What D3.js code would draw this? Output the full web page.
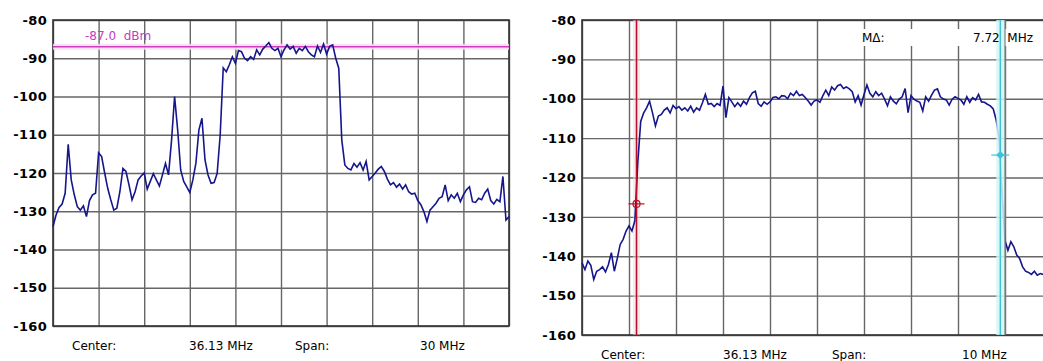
<!DOCTYPE html>
<html>
<head>
<meta charset="utf-8">
<script src="https://cdn.jsdelivr.net/npm/d3@7"></script>
<style>
body { margin: 0; background: #fff; }
svg text { font-family: "DejaVu Sans", sans-serif; fill: #000; }
.ylab text { font-size: 13px; font-weight: bold; letter-spacing: 0.3px; }
.foot { font-size: 12px; white-space: pre; }
</style>
</head>
<body>
<svg class="chart" width="1043" height="361"></svg>
<script>
const yTicks = [-80, -90, -100, -110, -120, -130, -140, -150, -160];

// left screen: center 36.13 MHz, span 30 MHz, 151 points
const leftSpan = [21.13, 51.13];
const leftTrace = [
  -134.0, -131.0, -129.0, -128.1, -125.3, -112.5, -121.8, -125.7, -128.8, -129.7,
  -128.6, -131.4, -127.2, -125.7, -125.3, -114.7, -115.7, -120.0, -124.0, -127.0,
  -129.7, -129.2, -124.9, -118.8, -119.6, -123.1, -127.0, -124.9, -121.8, -120.8,
  -120.0, -124.2, -122.2, -120.2, -121.8, -123.4, -120.5, -117.5, -120.5, -111.4,
  -100.0, -108.7, -119.2, -122.2, -123.6, -125.1, -121.8, -117.5, -108.7, -105.7,
  -116.6, -120.5, -122.7, -122.5, -120.1, -110.0, -92.5, -93.5, -91.7, -89.6,
  -91.3, -88.0, -88.3, -90.0, -90.6, -89.6, -90.3, -87.8, -89.1, -87.6,
  -86.8, -85.9, -87.4, -88.0, -87.4, -89.6, -87.8, -86.5, -87.6, -86.9,
  -88.7, -87.4, -88.0, -86.9, -88.3, -89.1, -89.6, -86.8, -88.5, -86.3,
  -88.9, -86.9, -86.5, -90.0, -92.6, -111.4, -117.9, -118.8, -119.2, -117.5,
  -118.5, -117.3, -119.2, -117.0, -121.8, -120.9, -120.0, -119.0, -118.3, -119.6,
  -121.6, -123.1, -122.5, -123.7, -122.9, -124.2, -123.1, -124.9, -125.5, -125.3,
  -127.2, -128.3, -130.1, -132.7, -129.7, -128.8, -127.9, -126.6, -126.2, -123.1,
  -127.2, -125.7, -126.6, -125.3, -127.5, -125.7, -124.4, -123.6, -127.5, -127.7,
  -126.6, -127.0, -125.3, -124.2, -127.2, -128.1, -126.9, -127.5, -120.9, -132.3,
  -131.4
];
const leftRefLevel = -87.0;
const leftRefLabel = '-87.0  dBm';
const leftFooter = ['Center:', '36.13 MHz', 'Span:', '30 MHz'];

// right screen: center 36.13 MHz, span 10 MHz, 0.0625 MHz steps (cut by the window)
const rightSpan = [31.13, 41.13];
const rightTrace = [
  -141.7, -143.4, -141.2, -142.3, -145.9, -143.8, -143.4, -142.7, -144.0, -142.1,
  -139.1, -143.8, -140.6, -137.0, -135.7, -133.6, -132.3, -133.6, -131.0, -116.0,
  -105.7, -103.6, -102.3, -100.6, -103.6, -106.9, -104.4, -104.0, -102.9, -102.3,
  -103.6, -101.7, -102.5, -102.0, -102.9, -102.3, -103.1, -101.9, -103.4, -102.3,
  -102.9, -101.0, -98.9, -101.4, -101.2, -102.0, -101.2, -101.7, -96.8, -104.8,
  -99.7, -100.8, -102.0, -101.0, -101.9, -100.6, -101.4, -99.7, -98.5, -98.1,
  -101.2, -101.9, -100.8, -101.4, -100.8, -99.7, -99.5, -100.0, -99.2, -99.3,
  -100.0, -98.6, -99.2, -98.1, -99.2, -98.9, -99.7, -100.6, -101.6, -100.6,
  -100.3, -100.9, -99.2, -97.8, -99.2, -97.0, -97.8, -96.7, -96.4, -97.4,
  -97.0, -97.5, -98.2, -100.8, -99.2, -101.6, -98.9, -96.5, -98.6, -99.5,
  -98.2, -99.2, -98.6, -100.1, -101.8, -99.5, -100.6, -101.3, -100.1, -99.5,
  -97.4, -103.5, -99.2, -100.1, -100.6, -100.9, -103.1, -99.5, -100.6, -99.1,
  -97.8, -97.5, -99.5, -100.1, -100.3, -101.6, -100.1, -99.5, -99.9, -100.3,
  -101.4, -99.5, -100.9, -99.7, -100.3, -98.9, -100.8, -100.9, -101.4, -101.8,
  -102.6, -105.4, -110.0, -124.5, -136.0, -138.5, -136.3, -137.6, -139.7, -140.6,
  -142.7, -143.8, -144.1, -144.6, -143.8, -144.8, -144.4, -144.6
];
const rightStep = 0.0625;
const markerFreqs = [32.29, 40.03];
const markerLevels = [-126.7, -114.3];
const deltaLabel = ['M\u0394:', '7.72  MHz'];
const rightFooter = ['Center:', '36.13 MHz', 'Span:', '10 MHz'];

const svg = d3.select('.chart');

const panels = [
  { x0: 53, x1: 509, y0: 20, y1: 326, span: leftSpan, data: leftTrace, step: 0.2,
    footer: leftFooter, footX: [72, 189, 295, 420], footY: 350 },
  { x0: 582, x1: 1052, y0: 20, y1: 335, span: rightSpan, data: rightTrace, step: rightStep,
    footer: rightFooter, footX: [601, 723, 832, 962], footY: 359 }
];

const drawPanel = p => {
  const x = d3.scaleLinear().domain(p.span).range([p.x0, p.x1]);
  const y = d3.scaleLinear().domain([-80, -160]).range([p.y0, p.y1]);
  const h = p.y1 - p.y0;
  const w = p.x1 - p.x0;
  const xGrid = d3.range(11).map(k => p.span[0] + k * (p.span[1] - p.span[0]) / 10);

  const g = svg.append('g');

  const xAxisG = g.append('g')
    .attr('transform', `translate(0, ${p.y1})`)
    .call(d3.axisBottom(x).tickValues(xGrid).tickSize(-h).tickFormat(''));
  xAxisG.select('.domain').remove();
  xAxisG.selectAll('.tick line').attr('stroke', '#666').attr('stroke-width', 1.4);

  const yAxisG = g.append('g')
    .attr('class', 'ylab')
    .attr('transform', `translate(${p.x0}, 0)`)
    .call(d3.axisLeft(y).tickValues(yTicks).tickSize(-w).tickPadding(6).tickFormat(d => String(d)));
  yAxisG.select('.domain').remove();
  yAxisG.selectAll('.tick line').attr('stroke', '#666').attr('stroke-width', 1.4);
  yAxisG.selectAll('.tick text').attr('fill', '#000');

  g.append('rect')
    .attr('x', p.x0).attr('y', p.y0)
    .attr('width', w).attr('height', h)
    .attr('fill', 'none')
    .attr('stroke', '#333')
    .attr('stroke-width', 1.6);

  p.footer.forEach((t, k) => {
    g.append('text')
      .attr('class', 'foot')
      .attr('x', p.footX[k])
      .attr('y', p.footY)
      .text(t);
  });

  return { g, x, y };
};

// left
const L = drawPanel(panels[0]);

L.g.append('rect')
  .attr('x', panels[0].x0).attr('y', L.y(leftRefLevel) - 3)
  .attr('width', panels[0].x1 - panels[0].x0).attr('height', 6)
  .attr('fill', '#f8dcf3').attr('opacity', 0.85);

L.g.append('line')
  .attr('x1', panels[0].x0).attr('x2', panels[0].x1)
  .attr('y1', L.y(leftRefLevel)).attr('y2', L.y(leftRefLevel))
  .attr('stroke', '#cc3cbc').attr('stroke-width', 1.4);

L.g.append('text')
  .attr('class', 'foot')
  .attr('x', 85).attr('y', 40)
  .attr('font-size', 11)
  .style('fill', '#c63cc0')
  .text(leftRefLabel);

const lineL = d3.line()
  .x((d, i) => L.x(leftSpan[0] + i * panels[0].step))
  .y(d => L.y(d));

L.g.append('path')
  .datum(leftTrace)
  .attr('d', lineL)
  .attr('fill', 'none')
  .attr('stroke', '#16168c')
  .attr('stroke-width', 1.6);

// right
const R = drawPanel(panels[1]);

const mRed = R.x(markerFreqs[0]);
const mCyan = R.x(markerFreqs[1]);

R.g.append('rect')
  .attr('x', mRed - 3.5).attr('y', panels[1].y0)
  .attr('width', 7).attr('height', panels[1].y1 - panels[1].y0)
  .attr('fill', '#f8d6da').attr('opacity', 0.5);

R.g.append('rect')
  .attr('x', 858).attr('y', 29)
  .attr('width', 200).attr('height', 17)
  .attr('fill', '#fff');

const lineR = d3.line()
  .x((d, i) => R.x(rightSpan[0] + i * rightStep))
  .y(d => R.y(d));

R.g.append('path')
  .datum(rightTrace)
  .attr('d', lineR)
  .attr('fill', 'none')
  .attr('stroke', '#16168c')
  .attr('stroke-width', 1.6);

R.g.append('line')
  .attr('x1', mRed).attr('x2', mRed)
  .attr('y1', panels[1].y0).attr('y2', panels[1].y1)
  .attr('stroke', '#b8102c').attr('stroke-width', 1.6);

R.g.append('rect')
  .attr('x', mCyan - 4).attr('y', panels[1].y0)
  .attr('width', 9).attr('height', panels[1].y1 - panels[1].y0)
  .attr('fill', '#d2f4f7').attr('opacity', 0.85);

R.g.append('line')
  .attr('x1', mCyan).attr('x2', mCyan)
  .attr('y1', panels[1].y0).attr('y2', panels[1].y1)
  .attr('stroke', '#3cc4d4').attr('stroke-width', 1.4);

R.g.append('line')
  .attr('x1', R.x(rightSpan[0] + 9)).attr('x2', R.x(rightSpan[0] + 9))
  .attr('y1', panels[1].y0).attr('y2', panels[1].y1)
  .attr('stroke', '#666').attr('stroke-width', 1.4).attr('opacity', 0.7);

R.g.selectAll('.dlab')
  .data(deltaLabel)
  .enter()
  .append('text')
  .attr('class', 'foot')
  .attr('x', (d, i) => i === 0 ? 862 : 973)
  .attr('y', 42)
  .text(d => d);

// marker symbols
const redY = R.y(markerLevels[0]);
R.g.append('line')
  .attr('x1', mRed - 8).attr('x2', mRed + 8)
  .attr('y1', redY).attr('y2', redY)
  .attr('stroke', '#b8102c').attr('stroke-width', 1.2);
R.g.append('circle')
  .attr('cx', mRed).attr('cy', redY).attr('r', 3.5)
  .attr('fill', 'none').attr('stroke', '#b8102c').attr('stroke-width', 1.2);

const cyanY = R.y(markerLevels[1]);
R.g.append('line')
  .attr('x1', mCyan - 9).attr('x2', mCyan + 9)
  .attr('y1', cyanY).attr('y2', cyanY)
  .attr('stroke', '#3cc4d4').attr('stroke-width', 1.2);
R.g.append('path')
  .attr('d', `M${mCyan},${cyanY - 4}L${mCyan + 4},${cyanY}L${mCyan},${cyanY + 4}L${mCyan - 4},${cyanY}Z`)
  .attr('fill', '#3cc4d4');
</script>
</body>
</html>
